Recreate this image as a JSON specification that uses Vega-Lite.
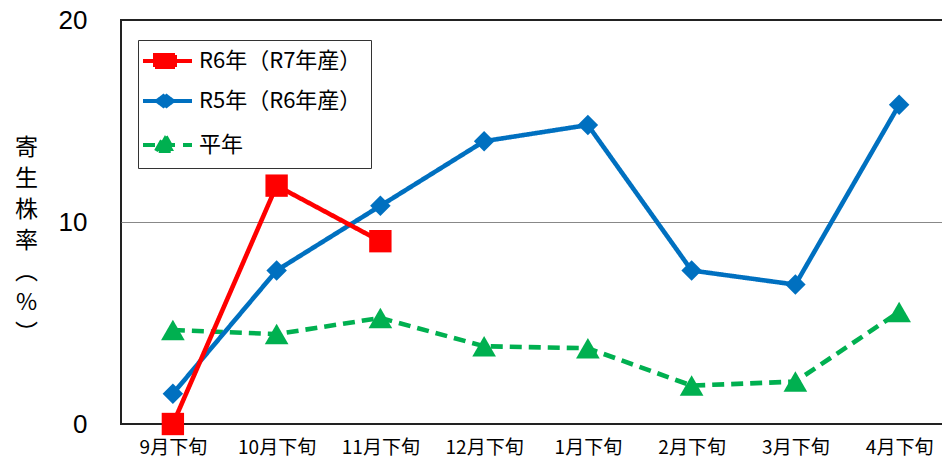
{
  "$schema": "https://vega.github.io/schema/vega-lite/v6.json",
  "autosize": {"type": "none"},
  "padding": {"left": 121, "top": 20, "right": 0, "bottom": 33},
  "width": 830,
  "height": 404,
  "background": "white",
  "view": {"stroke": "#222", "strokeWidth": 2},
  "config": {"font": "Noto Sans CJK JP"},
  "data": {
    "values": [
      {"month": "9月下旬", "series": "平年", "value": 4.65},
      {"month": "10月下旬", "series": "平年", "value": 4.45},
      {"month": "11月下旬", "series": "平年", "value": 5.25},
      {"month": "12月下旬", "series": "平年", "value": 3.85},
      {"month": "1月下旬", "series": "平年", "value": 3.75},
      {"month": "2月下旬", "series": "平年", "value": 1.9},
      {"month": "3月下旬", "series": "平年", "value": 2.1},
      {"month": "4月下旬", "series": "平年", "value": 5.55},
      {"month": "9月下旬", "series": "R5年（R6年産）", "value": 1.5},
      {"month": "10月下旬", "series": "R5年（R6年産）", "value": 7.6},
      {"month": "11月下旬", "series": "R5年（R6年産）", "value": 10.8},
      {"month": "12月下旬", "series": "R5年（R6年産）", "value": 14.0},
      {"month": "1月下旬", "series": "R5年（R6年産）", "value": 14.8},
      {"month": "2月下旬", "series": "R5年（R6年産）", "value": 7.6},
      {"month": "3月下旬", "series": "R5年（R6年産）", "value": 6.9},
      {"month": "4月下旬", "series": "R5年（R6年産）", "value": 15.8},
      {"month": "9月下旬", "series": "R6年（R7年産）", "value": 0},
      {"month": "10月下旬", "series": "R6年（R7年産）", "value": 11.8},
      {"month": "11月下旬", "series": "R6年（R7年産）", "value": 9.05}
    ]
  },
  "encoding": {
    "x": {
      "field": "month",
      "type": "ordinal",
      "sort": ["9月下旬", "10月下旬", "11月下旬", "12月下旬", "1月下旬", "2月下旬", "3月下旬", "4月下旬"],
      "scale": {"type": "point", "padding": 0.5},
      "axis": {
        "title": null,
        "domain": false,
        "ticks": false,
        "labelAngle": 0,
        "labelFontSize": 19,
        "labelColor": "#000",
        "labelPadding": 14,
        "labelFont": "Noto Sans CJK JP"
      }
    },
    "y": {
      "field": "value",
      "type": "quantitative",
      "scale": {"domain": [0, 20], "nice": false},
      "axis": {
        "values": [0, 10, 20],
        "domain": false,
        "ticks": false,
        "grid": true,
        "gridColor": {"condition": {"test": "datum.value === 10", "value": "#888"}, "value": "transparent"},
        "gridWidth": 1.2,
        "labelFont": "Liberation Sans",
        "labelFontSize": 26,
        "labelColor": "#000",
        "labelPadding": 34,
        "title": ["寄", "生", "株", "率", "︵", "%", "︶"],
        "titleFont": "Noto Sans CJK JP",
        "titleFontSize": 23,
        "titleFontWeight": "normal",
        "titleColor": "#000",
        "titleAngle": 0,
        "titleAlign": "center",
        "titleBaseline": "middle",
        "titleLineHeight": 31,
        "titleX": -95,
        "titleY": 127
      }
    }
  },
  "layer": [
    {
      "mark": {"type": "line", "strokeWidth": 4.6},
      "encoding": {
        "color": {
          "field": "series",
          "type": "nominal",
          "scale": {
            "domain": ["R6年（R7年産）", "R5年（R6年産）", "平年"],
            "range": ["#FF0000", "#0070C0", "#00B050"]
          },
          "legend": {
            "title": null,
            "orient": "none",
            "legendX": 17,
            "legendY": 20,
            "padding": 9,
            "rowPadding": 12,
            "strokeColor": "#333",
            "fillColor": "white",
            "symbolSize": 400,
            "symbolStrokeWidth": 4,
            "labelFont": "Noto Sans CJK JP",
            "labelFontSize": 22,
            "labelColor": "#000",
            "labelOffset": 28,
            "labelLimit": 300,
            "encode": {
              "symbols": {
                "update": {
                  "shape": {"signal": "datum.value === 'R6年（R7年産）' ? 'M-1.6,0H3.3M-0.4,-0.6H1.6V0.6H-0.4Z' : datum.value === 'R5年（R6年産）' ? 'M-1.6,0H3.3M-0.2,0L0.6,-0.6L1.4,0L0.6,0.6Z' : 'M-1.6,0H3.3M-0.3,0.6L0.6,-1.0L1.5,0.6Z'"},
                  "fill": {"signal": "datum.value === 'R6年（R7年産）' ? '#FF0000' : datum.value === 'R5年（R6年産）' ? '#0070C0' : '#00B050'"},
                  "stroke": {"signal": "datum.value === 'R6年（R7年産）' ? '#FF0000' : datum.value === 'R5年（R6年産）' ? '#0070C0' : '#00B050'"},
                  "strokeDash": {"signal": "datum.value === '平年' ? [12, 8] : [1, 0]"}
                }
              }
            }
          }
        },
        "strokeDash": {
          "condition": {"test": "datum.series === '平年'", "value": [12, 7]},
          "value": [1, 0]
        }
      }
    },
    {
      "transform": [{"filter": "datum.series === '平年'"}],
      "mark": {"type": "point", "filled": true, "opacity": 1, "shape": "triangle-up", "size": 560, "color": "#00B050"}
    },
    {
      "transform": [{"filter": "datum.series === 'R5年（R6年産）'"}],
      "mark": {"type": "point", "filled": true, "opacity": 1, "shape": "diamond", "size": 420, "color": "#0070C0"}
    },
    {
      "transform": [{"filter": "datum.series === 'R6年（R7年産）'"}],
      "mark": {"type": "point", "filled": true, "opacity": 1, "shape": "square", "size": 500, "color": "#FF0000"}
    }
  ]
}
